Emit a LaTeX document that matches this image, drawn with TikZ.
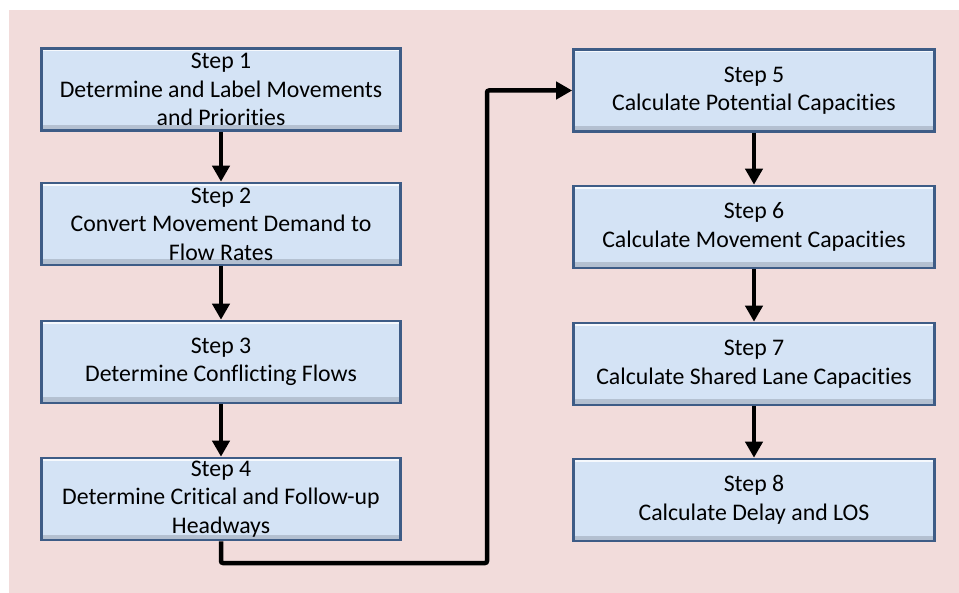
\documentclass[tikz,border=0pt]{standalone}
\usepackage{fontspec}
\setmainfont{Carlito}[Ligatures=NoCommon]
\usetikzlibrary{arrows.meta}
\definecolor{bgpink}{HTML}{F2DCDB}
\definecolor{boxfill}{HTML}{D4E3F5}
\definecolor{boxline}{HTML}{3E5C86}
\begin{document}
\begin{tikzpicture}[x=1pt,y=-1pt,
  stepbox/.style={draw=boxline, line width=2.6pt, fill=boxfill,
    minimum width=359pt, minimum height=82pt, align=center,
    font=\fontsize{23.8}{28.6}\selectfont, inner sep=0pt,
    path picture={
      \shade[top color=boxfill, bottom color=boxline!40]
        ([yshift=5pt]path picture bounding box.south west) rectangle (path picture bounding box.south east);
      \fill[white!80!boxfill]
        (path picture bounding box.north west) rectangle ([yshift=-3pt]path picture bounding box.north east);
    }},
  flow/.style={line width=4.5pt, -{Triangle[length=16pt,width=17pt]}}]
\useasboundingbox (0,0) rectangle (959,593);
\fill[bgpink] (9,10) rectangle (959,593);
\node[stepbox] (s1) at (221,89.5) {Step 1\\Determine and Label Movements\\and Priorities};
\node[stepbox] (s2) at (221,224) {Step 2\\Convert Movement Demand to\\Flow Rates};
\node[stepbox] (s3) at (221,362) {Step 3\\Determine Conflicting Flows};
\node[stepbox] (s4) at (221,499) {Step 4\\Determine Critical and Follow-up\\Headways};
\node[stepbox, minimum width=361pt] (s5) at (754,90.5) {Step 5\\Calculate Potential Capacities};
\node[stepbox, minimum width=361pt] (s6) at (754,227) {Step 6\\Calculate Movement Capacities};
\node[stepbox, minimum width=361pt] (s7) at (754,364) {Step 7\\Calculate Shared Lane Capacities};
\node[stepbox, minimum width=361pt] (s8) at (754,500) {Step 8\\Calculate Delay and LOS};
\draw[flow] (s1) -- (s2);
\draw[flow] (s2) -- (s3);
\draw[flow] (s3) -- (s4);
\draw[flow] (s5) -- (s6);
\draw[flow] (s6) -- (s7);
\draw[flow] (s7) -- (s8);
\coordinate (turn) at (487,563);
\draw[flow, rounded corners=2pt] (s4.south) |- (turn) |- (s5.west);
\end{tikzpicture}
\end{document}
